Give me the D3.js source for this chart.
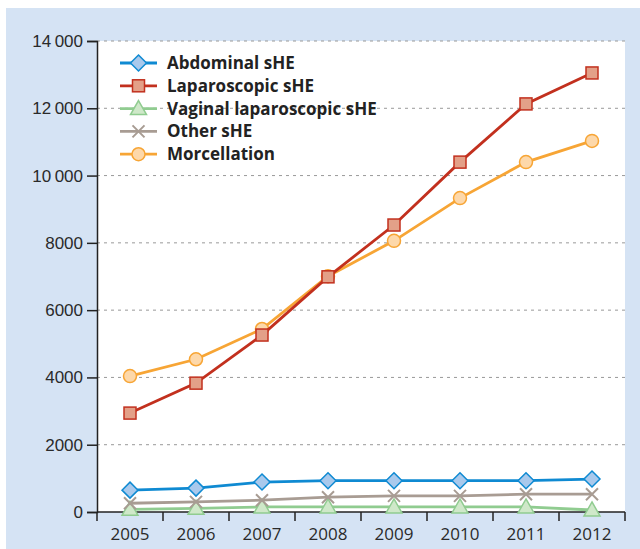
<!DOCTYPE html>
<html lang="en">
<head>
  <meta charset="UTF-8">
  <title>sHE chart</title>
  <script src="https://cdnjs.cloudflare.com/ajax/libs/d3/7.8.5/d3.min.js"></script>
  <style>
    body { margin: 0; background: #fff; }
    svg { display: block; font-family: "Open Sans", "Noto Sans", sans-serif; }
  </style>
</head>
<body>
  <div id="chart"></div>
  <script>
    // data
    const years = ["2005", "2006", "2007", "2008", "2009", "2010", "2011", "2012"];
    const yTicks = [0, 2000, 4000, 6000, 8000, 10000, 12000, 14000];

    const abdominal = [650, 710, 890, 930, 930, 930, 930, 980];
    const laparoscopic = [2940, 3830, 5260, 6990, 8530, 10400, 12130, 13050];
    const vaginal = [80, 110, 150, 150, 150, 150, 150, 60];
    const other = [260, 300, 350, 440, 480, 480, 530, 530];
    const morcellation = [4040, 4540, 5440, 7010, 8060, 9330, 10400, 11030];

    const seriesNames = ["Abdominal sHE", "Laparoscopic sHE", "Vaginal laparoscopic sHE", "Other sHE", "Morcellation"];

    //style per series
    const styles = [
      { line: "#0f8ad2", fill: "#a9c9ec", stroke: "#0f8ad2", shape: "diamond" },
      { line: "#c2301e", fill: "#e3a088", stroke: "#c2301e", shape: "square" },
      { line: "#90cc90", fill: "#cfe8c9", stroke: "#90cc90", shape: "triangle" },
      { line: "#a89c93", fill: "none", stroke: "#a89c93", shape: "cross" },
      { line: "#f7a535", fill: "#fdd8aa", stroke: "#f7a535", shape: "circle" }
    ];
    const seriesData = [abdominal, laparoscopic, vaginal, other, morcellation];

    const width = 640, height = 549;
    const margin = { top: 41, right: 15, bottom: 37, left: 97 };

    const svg = d3.select("#chart").append("svg")
      .attr("width", width)
      .attr("height", height);

    // blue panel
    svg.append("rect").attr("x", 6).attr("y", 8)
      .attr("width", width - 6).attr("height", height - 8)
      .attr("fill", "#d5e3f4");

    const x = d3.scaleBand().domain(years)
      .range([margin.left, width - margin.right]);
    const y = d3.scaleLinear().domain([0, 14000])
      .range([height - margin.bottom, margin.top]);

    // white plot area
    svg.append("rect")
      .attr("x", margin.left).attr("y", margin.top)
      .attr("width", width - margin.right - margin.left)
      .attr("height", y(0) - margin.top)
      .attr("fill", "#fff");

    // gridlines
    svg.append("g").selectAll("line")
      .data(yTicks.filter(d => d > 0))
      .join("line")
      .attr("x1", margin.left).attr("x2", width - margin.right)
      .attr("y1", d => y(d)).attr("y2", d => y(d))
      .attr("stroke", "#999").attr("stroke-width", 1)
      .attr("stroke-dasharray", "3,4");

    // y axis
    const yAxis = svg.append("g")
      .attr("transform", `translate(${margin.left},0)`)
      .call(d3.axisLeft(y).tickValues(yTicks).tickSize(10).tickPadding(4)
        .tickFormat(d => d >= 10000 ? d3.format(",")(d).replace(",", "\u2009") : d));
    yAxis.select(".domain").attr("stroke", "#222").attr("stroke-width", 1.5);
    yAxis.selectAll(".tick line").attr("stroke", "#222").attr("stroke-width", 1.5);
    yAxis.selectAll("text").attr("font-size", 17).attr("fill", "#2a2a2a");

    // x axis with ticks between categories
    const xg = svg.append("g")
      .attr("transform", `translate(0,${y(0)})`);
    xg.append("line")
      .attr("x1", margin.left).attr("x2", width - margin.right)
      .attr("stroke", "#222").attr("stroke-width", 1.5);
    const bounds = years.map(d => x(d)).concat([x(years[years.length - 1]) + x.bandwidth()]);
    xg.selectAll(".tk").data(bounds).join("line")
      .attr("x1", d => d).attr("x2", d => d)
      .attr("y1", 0).attr("y2", 9)
      .attr("stroke", "#222").attr("stroke-width", 1.5);
    xg.selectAll("text").data(years).join("text")
      .attr("x", d => x(d) + x.bandwidth() / 2)
      .attr("y", 28)
      .attr("text-anchor", "middle")
      .attr("font-size", 17).attr("fill", "#2a2a2a")
      .text(d => d);

    // marker drawing
    function marker(g, s) {
      if (s.shape === "diamond") {
        g.append("path").attr("d", "M0,-8L8,0L0,8L-8,0Z")
          .attr("fill", s.fill).attr("stroke", s.stroke).attr("stroke-width", 1.5);
      } else if (s.shape === "square") {
        g.append("rect").attr("x", -6).attr("y", -6).attr("width", 12).attr("height", 12)
          .attr("fill", s.fill).attr("stroke", s.stroke).attr("stroke-width", 1.5);
      } else if (s.shape === "triangle") {
        g.append("path").attr("d", "M0,-8L8,6L-8,6Z")
          .attr("fill", s.fill).attr("stroke", s.stroke).attr("stroke-width", 1.5);
      } else if (s.shape === "cross") {
        g.append("path").attr("d", "M-6,-6L6,6M-6,6L6,-6")
          .attr("stroke", s.stroke).attr("stroke-width", 2);
      } else {
        g.append("circle").attr("r", 6.5)
          .attr("fill", s.fill).attr("stroke", s.stroke).attr("stroke-width", 1.5);
      }
    }

    const line = d3.line()
      .x((d, i) => x(years[i]) + x.bandwidth() / 2)
      .y(d => y(d));

    // draw from back to front: vaginal first, then others
    const order = [2, 3, 0, 4, 1];
    order.forEach(k => {
      const s = styles[k];
      svg.append("path").datum(seriesData[k])
        .attr("d", line)
        .attr("fill", "none")
        .attr("stroke", s.line)
        .attr("stroke-width", 2.8);
      seriesData[k].forEach((v, i) => {
        const g = svg.append("g")
          .attr("transform", `translate(${x(years[i]) + x.bandwidth() / 2},${y(v)})`);
        marker(g, s);
      });
    });

    // legend
    const legend = svg.append("g").attr("transform", "translate(120,63)");
    seriesNames.forEach((name, i) => {
      const g = legend.append("g").attr("transform", `translate(0,${i * 22.8})`);
      g.append("line").attr("x1", 0).attr("x2", 37)
        .attr("stroke", styles[i].line).attr("stroke-width", 2.8);
      const m = g.append("g").attr("transform", "translate(18.5,0)");
      marker(m, styles[i]);
      g.append("text").attr("x", 47).attr("y", 6)
        .attr("font-size", 17).attr("font-weight", "bold").attr("fill", "#222")
        .text(name);
    });
  </script>
</body>
</html>
